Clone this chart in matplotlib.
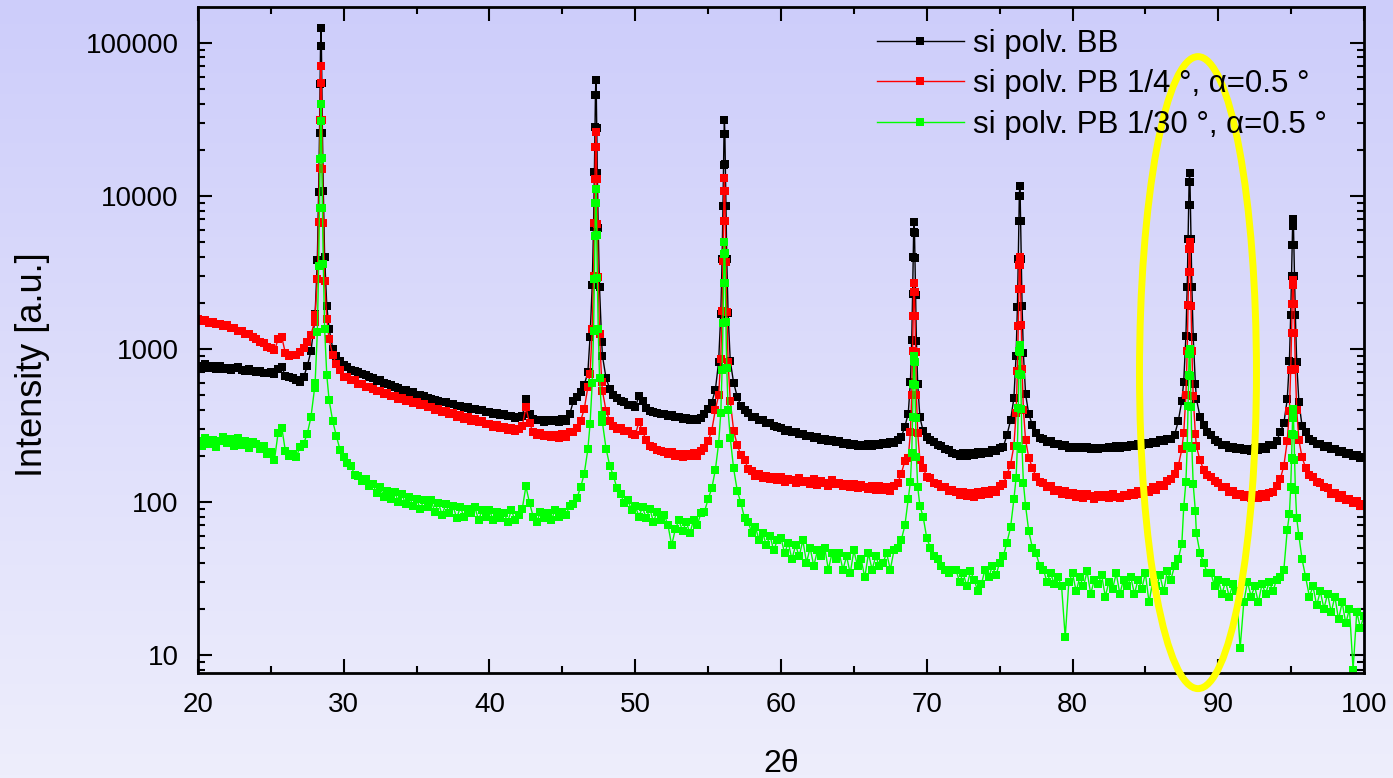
import numpy as np
import matplotlib
matplotlib.use("Agg")
import matplotlib.pyplot as plt
from matplotlib.colors import LinearSegmentedColormap
from matplotlib.patches import Ellipse
from matplotlib.ticker import LogLocator, NullFormatter, FixedLocator

matplotlib.rcParams['font.family'] = ['Liberation Sans', 'DejaVu Sans']

# scan grid: 20..100 deg, 0.25 deg step (None = inside a peak window)
scan_start = 20.0
scan_step = 0.25

peak_centres = [28.44, 47.30, 56.12, 69.13, 76.38, 88.03, 95.13]
peak_offsets = [-0.4, -0.25, -0.16, -0.1, -0.06, -0.03, 0.0, 0.03, 0.06, 0.1, 0.16, 0.25, 0.4]

# si polv. BB
bb_bg = [
    775, 760, 790, 745, 765, 740, 770, 735, 750, 725, 745, 760, 730, 715, 740, 720,
    705, 720, 695, 690, 700, 680, 735, 760, 660, 655, 640, 625, 610, 650, 770, 960,
    1500, None, None, None, 1350, 1000, 900, 830, 780, 760, 730, 715, 700, 680, 670, 650,
    640, 612, 620, 596, 585, 580, 560, 556, 540, 538, 518, 522, 500, 498, 492, 476,
    472, 460, 458, 446, 448, 436, 432, 420, 424, 410, 414, 402, 405, 396, 398, 388,
    388, 376, 380, 368, 372, 362, 365, 352, 357, 362, 470, 372, 346, 340, 344, 334,
    340, 336, 344, 334, 346, 338, 372, 452, 482, 520, 580, 700, None, None, None, 900,
    640, 548, 498, 478, 452, 450, 430, 428, 414, 488, 452, 408, 394, 384, 382, 372,
    372, 364, 366, 356, 358, 348, 354, 342, 348, 340, 354, 372, 402, 445, 540, None,
    None, None, None, 600, 485, 424, 396, 382, 360, 358, 342, 340, 326, 325, 312, 310,
    302, 292, 296, 284, 286, 276, 278, 268, 270, 260, 265, 255, 258, 250, 254, 246,
    248, 238, 243, 234, 238, 232, 236, 230, 238, 233, 240, 236, 243, 238, 246, 242,
    252, 264, 310, None, None, None, None, 290, 266, 252, 247, 236, 230, 220, 218, 208,
    206, 200, 208, 198, 207, 202, 210, 204, 212, 208, 218, 214, 226, 228, 272, 340,
    None, None, None, None, 372, 318, 282, 262, 256, 246, 248, 238, 238, 230, 234, 226,
    228, 226, 229, 224, 227, 222, 226, 221, 225, 224, 228, 223, 230, 226, 232, 228,
    236, 232, 240, 236, 242, 238, 246, 242, 252, 248, 258, 256, 272, 335, 455, None,
    None, None, 470, 358, 318, 286, 272, 252, 244, 234, 234, 226, 228, 220, 224, 218,
    222, 216, 224, 218, 228, 222, 234, 236, 248, 285, 326, None, None, None, None, 312,
    285, 256, 250, 240, 238, 228, 232, 220, 222, 212, 216, 204, 208, 198, 203, 192,
    195,
]
bb_peaks = [
    [1690, 3800, 10600, 25500, 54000, 94700, 124000, 95000, 54500, 25800, 10800, 4000, 1900],
    [1190, 2610, 6260, 14260, 27960, 45560, 57000, 45500, 27800, 14100, 6150, 2520, 1100],
    [820, 1690, 3860, 8510, 15950, 25250, 31000, 25300, 16000, 8520, 3870, 1700, 830],
    [377, 605, 1140, 2280, 3955, 5760, 6700, 5740, 3930, 2260, 1120, 585, 357],
    [477, 902, 1880, 3835, 6825, 9930, 11500, 9960, 6855, 3865, 1910, 932, 507],
    [608, 1210, 2540, 5200, 8700, 12340, 14000, 12320, 8680, 5180, 2520, 1190, 590],
    [466, 830, 1670, 3000, 4750, 6360, 7000, 6345, 4735, 2985, 1655, 815, 451],
]

# si polv. PB 1/4 deg
pb4_bg = [
    1560, 1510, 1530, 1470, 1490, 1440, 1460, 1400, 1420, 1370, 1360, 1300, 1310, 1250, 1250, 1190,
    1160, 1110, 1090, 1030, 1010, 975, 1150, 1190, 935, 900, 905, 910, 955, 1005, 1110, 1230,
    1500, None, None, None, 1150, 905, 790, 725, 655, 650, 622, 620, 590, 588, 565, 562,
    548, 528, 530, 508, 510, 490, 494, 470, 476, 455, 460, 440, 446, 426, 434, 416,
    414, 398, 402, 384, 390, 372, 378, 360, 366, 348, 356, 338, 346, 330, 336, 322,
    324, 310, 318, 302, 310, 296, 304, 290, 298, 312, 415, 326, 284, 272, 280, 268,
    274, 264, 272, 262, 276, 266, 284, 286, 304, 338, 402, 560, None, None, None, 530,
    392, 338, 314, 300, 302, 290, 292, 276, 272, 332, 290, 252, 230, 228, 218, 216,
    212, 204, 210, 200, 206, 196, 204, 198, 208, 200, 216, 226, 248, 292, 400, None,
    None, None, None, 292, 234, 202, 188, 164, 158, 148, 152, 142, 148, 140, 146, 138,
    145, 135, 141, 138, 133, 142, 134, 137, 131, 140, 129, 136, 133, 127, 138, 130,
    133, 126, 131, 124, 130, 122, 129, 125, 121, 127, 119, 126, 120, 124, 118, 126,
    132, 152, 185, None, None, None, None, 166, 146, 142, 132, 131, 124, 125, 118, 120,
    116, 110, 115, 109, 114, 108, 115, 110, 117, 112, 120, 116, 127, 130, 150, 175,
    None, None, None, None, 194, 166, 146, 134, 132, 125, 126, 118, 120, 113, 117, 111,
    114, 108, 113, 106, 112, 109, 104, 111, 107, 110, 105, 112, 108, 106, 111, 109,
    114, 110, 117, 112, 120, 116, 124, 120, 128, 127, 137, 140, 152, 170, 220, None,
    None, None, 230, 186, 162, 150, 146, 136, 133, 124, 124, 115, 117, 110, 113, 107,
    110, 105, 111, 106, 112, 108, 114, 116, 127, 140, 172, None, None, None, None, 195,
    166, 150, 146, 134, 132, 124, 122, 113, 114, 106, 110, 102, 104, 98, 101, 94,
    96,
]
pb4_peaks = [
    [1660, 2850, 6700, 15100, 31200, 54300, 70000, 54200, 31100, 15000, 6600, 2750, 1560],
    [686, 1336, 3000, 6640, 12880, 20940, 26000, 20860, 12800, 6560, 2920, 1256, 606],
    [496, 860, 1770, 3720, 6840, 10740, 13000, 10700, 6800, 3680, 1730, 820, 456],
    [193, 285, 501, 960, 1635, 2364, 2700, 2360, 1630, 955, 496, 280, 188],
    [232, 380, 720, 1400, 2440, 3520, 4000, 3540, 2460, 1420, 740, 400, 252],
    [280, 495, 970, 1920, 3170, 4470, 5000, 4465, 3165, 1915, 965, 490, 275],
    [248, 394, 730, 1262, 1962, 2606, 2800, 2610, 1967, 1267, 735, 399, 253],
]

# si polv. PB 1/30 deg
pb30_bg = [
    250, 232, 262, 240, 255, 228, 248, 266, 242, 258, 230, 262, 236, 250, 226, 244,
    238, 222, 230, 205, 212, 188, 282, 305, 214, 198, 206, 196, 228, 240, 278, 356,
    550, None, None, None, 460, 335, 268, 218, 196, 178, 172, 150, 148, 136, 140, 126,
    130, 114, 124, 108, 118, 104, 116, 100, 112, 96, 108, 94, 104, 90, 102, 92,
    102, 86, 98, 82, 96, 84, 94, 78, 92, 80, 90, 84, 92, 76, 88, 80,
    88, 76, 86, 78, 84, 74, 88, 76, 82, 90, 126, 98, 80, 74, 86, 78,
    84, 76, 88, 80, 86, 82, 94, 96, 106, 124, 152, 220, None, None, None, 330,
    222, 172, 148, 122, 112, 98, 102, 88, 94, 80, 92, 78, 90, 74, 86, 76,
    82, 70, 52, 66, 76, 64, 74, 62, 76, 70, 84, 86, 104, 122, 162, None,
    None, None, None, 165, 118, 98, 78, 74, 62, 68, 56, 62, 52, 60, 48, 56,
    58, 46, 54, 42, 52, 44, 56, 40, 50, 38, 48, 44, 50, 36, 46, 42,
    46, 36, 44, 34, 48, 38, 42, 32, 46, 36, 44, 38, 40, 46, 36, 48,
    50, 56, 70, None, None, None, None, 80, 58, 50, 44, 42, 38, 36, 34, 36,
    36, 30, 34, 28, 35, 31, 26, 29, 36, 32, 38, 33, 40, 44, 54, 68,
    None, None, None, None, 64, 50, 46, 38, 36, 30, 34, 29, 32, 28, 13, 30,
    34, 26, 32, 28, 35, 25, 31, 29, 33, 24, 30, 27, 34, 25, 31, 28,
    32, 25, 31, 27, 34, 22, 30, 28, 33, 26, 35, 31, 38, 42, 53, None,
    None, None, 62, 46, 40, 34, 34, 28, 31, 25, 30, 24, 29, 26, 11, 22,
    30, 24, 28, 22, 29, 25, 30, 26, 31, 32, 36, None, None, None, None, 42,
    32, 24, 28, 21, 26, 20, 25, 19, 24, 17, 22, 16, 20, 8, 19, 15,
    18,
]
pb30_peaks = [
    [600, 1280, 3480, 8280, 17480, 30680, 40000, 30750, 17550, 8350, 3550, 1350, 670],
    [321, 596, 1300, 2840, 5480, 8890, 11000, 8940, 5530, 2890, 1350, 646, 371],
    [240, 380, 730, 1480, 2680, 4180, 5000, 4200, 2700, 1500, 750, 400, 260],
    [104, 135, 207, 360, 585, 828, 900, 818, 575, 350, 197, 125, 94],
    [104, 143, 232, 411, 685, 967, 1050, 957, 675, 401, 222, 133, 94],
    [92, 135, 230, 420, 670, 930, 1000, 925, 665, 415, 225, 130, 87],
    [65, 83, 125, 192, 279, 360, 405, 355, 274, 187, 120, 78, 60],
]

series = (
    ("si polv. BB", bb_bg, bb_peaks, "#000000"),
    ("si polv. PB 1/4 °, α=0.5 °", pb4_bg, pb4_peaks, "#ff0000"),
    ("si polv. PB 1/30 °, α=0.5 °", pb30_bg, pb30_peaks, "#00ff00"),
)


def assemble(bg, peaks):
    y_bg = np.array(bg, dtype=float)
    x_bg = scan_start + scan_step * np.arange(len(y_bg))
    keep = ~np.isnan(y_bg)
    xs = [x_bg[keep]]
    ys = [y_bg[keep]]
    for c, vals in zip(peak_centres, peaks):
        xs.append(c + np.array(peak_offsets))
        ys.append(np.array(vals, dtype=float))
    x = np.concatenate(xs)
    y = np.concatenate(ys)
    order = np.argsort(x)
    return x[order], y[order]


fig = plt.figure(figsize=(13.93, 7.78), dpi=100)

# lavender gradient background
bg_ax = fig.add_axes([0, 0, 1, 1], zorder=-10)
cmap = LinearSegmentedColormap.from_list("lav", ["#eeeefc", "#cdcdfa"])
bg_ax.imshow(np.linspace(0, 1, 256).reshape(-1, 1), aspect="auto", cmap=cmap,
             origin="lower", extent=[0, 1, 0, 1])
bg_ax.axis("off")

ax = fig.add_axes([0.1421, 0.135, 0.8371, 0.856])
ax.set_facecolor("none")

for label, bg, peaks, color in series:
    x, y = assemble(bg, peaks)
    ax.plot(x, y, color=color, lw=1.0, marker="s", markersize=5.8,
            markeredgewidth=0, label=label)

ax.set_yscale("log")
ax.set_xlim(20, 100)
ax.set_ylim(7.6, 171000)

ax.xaxis.set_major_locator(FixedLocator([20, 30, 40, 50, 60, 70, 80, 90, 100]))
ax.xaxis.set_minor_locator(FixedLocator([25, 35, 45, 55, 65, 75, 85, 95]))
ax.yaxis.set_major_locator(FixedLocator([10, 100, 1000, 10000, 100000]))
ax.yaxis.set_minor_locator(LogLocator(base=10, subs=np.arange(2, 10), numticks=20))
ax.yaxis.set_minor_formatter(NullFormatter())
ax.set_yticklabels(["10", "100", "1000", "10000", "100000"])

ax.tick_params(which="both", direction="in", top=True, right=True, width=1.5,
               labelsize=20, pad=14)
ax.tick_params(which="major", length=10)
ax.tick_params(which="minor", length=5)
for s in ax.spines.values():
    s.set_linewidth(2)

ax.set_ylabel("Intensity [a.u.]", fontsize=26)
ax.yaxis.set_label_coords(-0.127, 0.4625)
ax.set_xlabel("2θ", fontsize=23, labelpad=22)

leg = ax.legend(loc="upper left", bbox_to_anchor=(0.582, 0.967), frameon=False,
                fontsize=22.5, handlelength=2.8, handletextpad=0.3, labelspacing=0.33,
                borderpad=0, borderaxespad=0)

# highlight of the 88 deg reflection
ell = Ellipse((0.8576, 0.451), 0.1003, 0.949, transform=ax.transAxes,
              fill=False, edgecolor="#ffff00", lw=5, clip_on=False, zorder=5)
ax.add_patch(ell)

fig.savefig("out.png", dpi=100)
plt.close(fig)
